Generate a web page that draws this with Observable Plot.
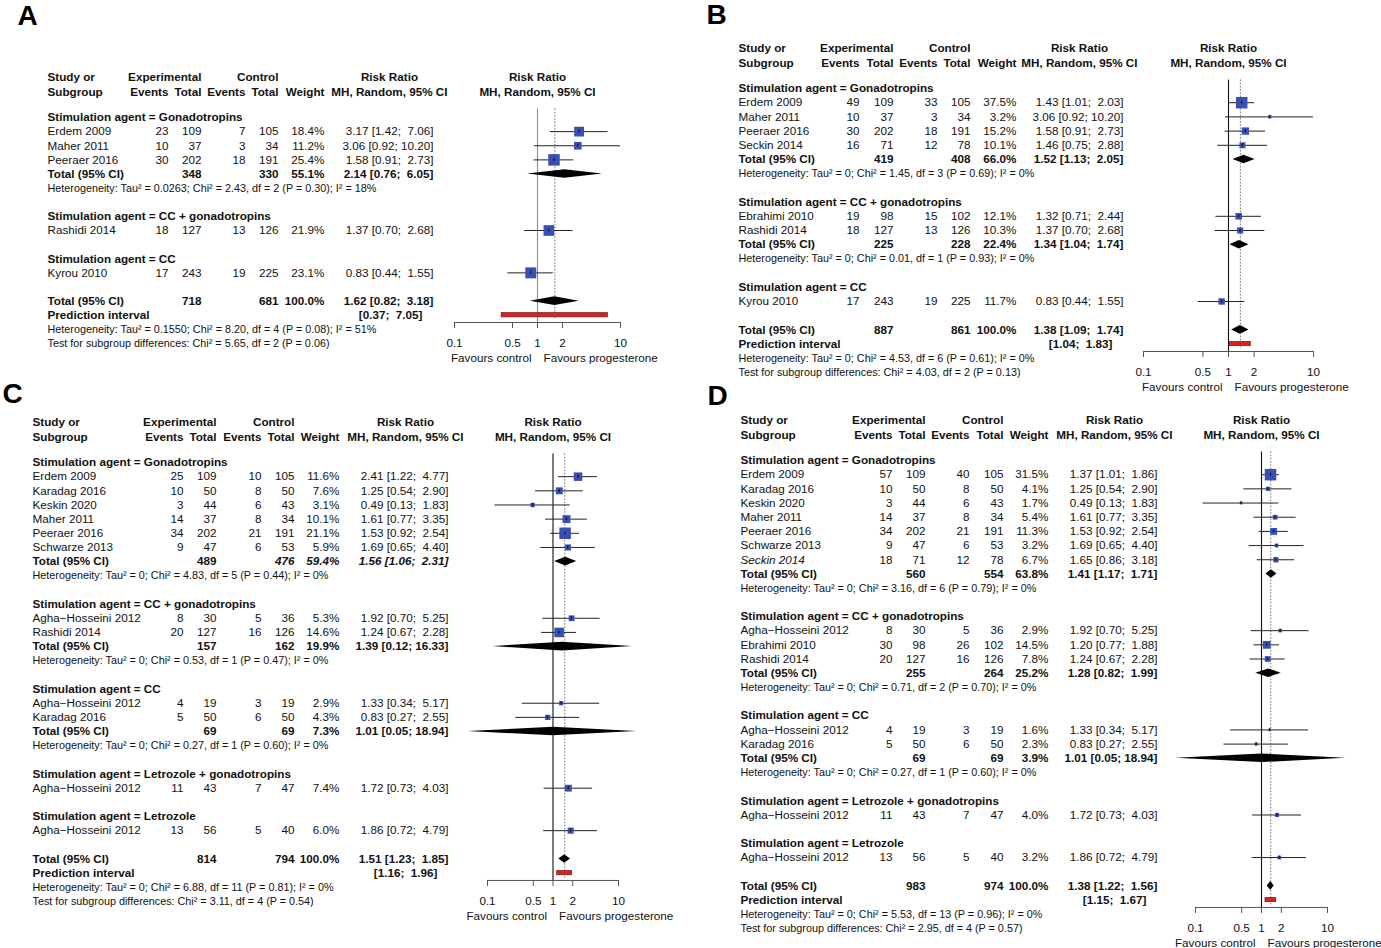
<!DOCTYPE html>
<html><head><meta charset="utf-8">
<script src="https://cdn.jsdelivr.net/npm/d3@7"></script>
<script src="https://cdn.jsdelivr.net/npm/@observablehq/plot@0.6"></script>
<style>
html,body{margin:0;padding:0;background:#fff;}
#fig{position:relative;width:1381px;height:948px;overflow:hidden;background:#fff;}
#fig svg{position:absolute;left:0;top:0;}
</style></head><body><div id="fig"></div>
<script>
// ---------------- DATA ----------------
const groupNames = ["Gonadotropins", "CC + gonadotropins", "CC", "Letrozole + gonadotropins", "Letrozole"];
const axisTicks = [0.1, 0.5, 1, 2, 10];
const favours = ["Favours control", "Favours progesterone"];

// study rows: [study, group, eventsE, totalE, eventsC, totalC, weight%, RR, lower, upper]
// subtotal rows: [group, totalE, totalC, weight%, RR, lower, upper, heterogeneity]
// overall: [totalE, totalC, weight%, RR, lower, upper, predLower, predUpper]

// Panel A
const studiesA = [
  ["Erdem 2009", 0, 23, 109, 7, 105, 18.4, 3.17, 1.42, 7.06],
  ["Maher 2011", 0, 10, 37, 3, 34, 11.2, 3.06, 0.92, 10.20],
  ["Peeraer 2016", 0, 30, 202, 18, 191, 25.4, 1.58, 0.91, 2.73],
  ["Rashidi 2014", 1, 18, 127, 13, 126, 21.9, 1.37, 0.70, 2.68],
  ["Kyrou 2010", 2, 17, 243, 19, 225, 23.1, 0.83, 0.44, 1.55]
];
const subtotalsA = [
  [0, 348, 330, 55.1, 2.14, 0.76, 6.05, "Heterogeneity: Tau² = 0.0263; Chi² = 2.43, df = 2 (P = 0.30); I² = 18%"]
];
const overallA = [718, 681, 100.0, 1.62, 0.82, 3.18, 0.37, 7.05];
const heterogeneityA = "Heterogeneity: Tau² = 0.1550; Chi² = 8.20, df = 4 (P = 0.08); I² = 51%";
const testA = "Test for subgroup differences: Chi² = 5.65, df = 2 (P = 0.06)";

// Panel B
const studiesB = [
  ["Erdem 2009", 0, 49, 109, 33, 105, 37.5, 1.43, 1.01, 2.03],
  ["Maher 2011", 0, 10, 37, 3, 34, 3.2, 3.06, 0.92, 10.20],
  ["Peeraer 2016", 0, 30, 202, 18, 191, 15.2, 1.58, 0.91, 2.73],
  ["Seckin 2014", 0, 16, 71, 12, 78, 10.1, 1.46, 0.75, 2.88],
  ["Ebrahimi 2010", 1, 19, 98, 15, 102, 12.1, 1.32, 0.71, 2.44],
  ["Rashidi 2014", 1, 18, 127, 13, 126, 10.3, 1.37, 0.70, 2.68],
  ["Kyrou 2010", 2, 17, 243, 19, 225, 11.7, 0.83, 0.44, 1.55]
];
const subtotalsB = [
  [0, 419, 408, 66.0, 1.52, 1.13, 2.05, "Heterogeneity: Tau² = 0; Chi² = 1.45, df = 3 (P = 0.69); I² = 0%"],
  [1, 225, 228, 22.4, 1.34, 1.04, 1.74, "Heterogeneity: Tau² = 0; Chi² = 0.01, df = 1 (P = 0.93); I² = 0%"]
];
const overallB = [887, 861, 100.0, 1.38, 1.09, 1.74, 1.04, 1.83];
const heterogeneityB = "Heterogeneity: Tau² = 0; Chi² = 4.53, df = 6 (P = 0.61); I² = 0%";
const testB = "Test for subgroup differences: Chi² = 4.03, df = 2 (P = 0.13)";

// Panel C
const studiesC = [
  ["Erdem 2009", 0, 25, 109, 10, 105, 11.6, 2.41, 1.22, 4.77],
  ["Karadag 2016", 0, 10, 50, 8, 50, 7.6, 1.25, 0.54, 2.90],
  ["Keskin 2020", 0, 3, 44, 6, 43, 3.1, 0.49, 0.13, 1.83],
  ["Maher 2011", 0, 14, 37, 8, 34, 10.1, 1.61, 0.77, 3.35],
  ["Peeraer 2016", 0, 34, 202, 21, 191, 21.1, 1.53, 0.92, 2.54],
  ["Schwarze 2013", 0, 9, 47, 6, 53, 5.9, 1.69, 0.65, 4.40],
  ["Agha\u2212Hosseini 2012", 1, 8, 30, 5, 36, 5.3, 1.92, 0.70, 5.25],
  ["Rashidi 2014", 1, 20, 127, 16, 126, 14.6, 1.24, 0.67, 2.28],
  ["Agha\u2212Hosseini 2012", 2, 4, 19, 3, 19, 2.9, 1.33, 0.34, 5.17],
  ["Karadag 2016", 2, 5, 50, 6, 50, 4.3, 0.83, 0.27, 2.55],
  ["Agha\u2212Hosseini 2012", 3, 11, 43, 7, 47, 7.4, 1.72, 0.73, 4.03],
  ["Agha\u2212Hosseini 2012", 4, 13, 56, 5, 40, 6.0, 1.86, 0.72, 4.79]
];
const subtotalsC = [
  [0, 489, 476, 59.4, 1.56, 1.06, 2.31, "Heterogeneity: Tau² = 0; Chi² = 4.83, df = 5 (P = 0.44); I² = 0%"],
  [1, 157, 162, 19.9, 1.39, 0.12, 16.33, "Heterogeneity: Tau² = 0; Chi² = 0.53, df = 1 (P = 0.47); I² = 0%"],
  [2, 69, 69, 7.3, 1.01, 0.05, 18.94, "Heterogeneity: Tau² = 0; Chi² = 0.27, df = 1 (P = 0.60); I² = 0%"]
];
const overallC = [814, 794, 100.0, 1.51, 1.23, 1.85, 1.16, 1.96];
const heterogeneityC = "Heterogeneity: Tau² = 0; Chi² = 6.88, df = 11 (P = 0.81); I² = 0%";
const testC = "Test for subgroup differences: Chi² = 3.11, df = 4 (P = 0.54)";

// Panel D
const studiesD = [
  ["Erdem 2009", 0, 57, 109, 40, 105, 31.5, 1.37, 1.01, 1.86],
  ["Karadag 2016", 0, 10, 50, 8, 50, 4.1, 1.25, 0.54, 2.90],
  ["Keskin 2020", 0, 3, 44, 6, 43, 1.7, 0.49, 0.13, 1.83],
  ["Maher 2011", 0, 14, 37, 8, 34, 5.4, 1.61, 0.77, 3.35],
  ["Peeraer 2016", 0, 34, 202, 21, 191, 11.3, 1.53, 0.92, 2.54],
  ["Schwarze 2013", 0, 9, 47, 6, 53, 3.2, 1.69, 0.65, 4.40],
  ["Seckin 2014", 0, 18, 71, 12, 78, 6.7, 1.65, 0.86, 3.18],
  ["Agha\u2212Hosseini 2012", 1, 8, 30, 5, 36, 2.9, 1.92, 0.70, 5.25],
  ["Ebrahimi 2010", 1, 30, 98, 26, 102, 14.5, 1.20, 0.77, 1.88],
  ["Rashidi 2014", 1, 20, 127, 16, 126, 7.8, 1.24, 0.67, 2.28],
  ["Agha\u2212Hosseini 2012", 2, 4, 19, 3, 19, 1.6, 1.33, 0.34, 5.17],
  ["Karadag 2016", 2, 5, 50, 6, 50, 2.3, 0.83, 0.27, 2.55],
  ["Agha\u2212Hosseini 2012", 3, 11, 43, 7, 47, 4.0, 1.72, 0.73, 4.03],
  ["Agha\u2212Hosseini 2012", 4, 13, 56, 5, 40, 3.2, 1.86, 0.72, 4.79]
];
const subtotalsD = [
  [0, 560, 554, 63.8, 1.41, 1.17, 1.71, "Heterogeneity: Tau² = 0; Chi² = 3.16, df = 6 (P = 0.79); I² = 0%"],
  [1, 255, 264, 25.2, 1.28, 0.82, 1.99, "Heterogeneity: Tau² = 0; Chi² = 0.71, df = 2 (P = 0.70); I² = 0%"],
  [2, 69, 69, 3.9, 1.01, 0.05, 18.94, "Heterogeneity: Tau² = 0; Chi² = 0.27, df = 1 (P = 0.60); I² = 0%"]
];
const overallD = [983, 974, 100.0, 1.38, 1.22, 1.56, 1.15, 1.67];
const heterogeneityD = "Heterogeneity: Tau² = 0; Chi² = 5.53, df = 13 (P = 0.96); I² = 0%";
const testD = "Test for subgroup differences: Chi² = 2.95, df = 4 (P = 0.57)";

const italicStudiesD = ["Seckin 2014"];
const italicSubtotalsC = [0];

// ---------------- LAYOUT / STYLE ----------------
const FONT = "'Liberation Sans', Arial, Helvetica, sans-serif";
const FS = 11.7, FSH = 10.8;
const BLUE = "#3a4fb2";

const layouts = {
  A: {letter: "A", lx: 17, ly: 5, y0: 117, rowH: 14.125,
      cols: {label: 47, evE: 168, totE: 201, evC: 245, totC: 278, w: 324, rr: 433, hdr: 447},
      xr: [454, 620], nullColor: "#8c8c8c"},
  B: {letter: "B", lx: 706, ly: 4, y0: 88, rowH: 14.2,
      cols: {label: 738, evE: 859, totE: 893, evC: 937, totC: 970, w: 1016, rr: 1123, hdr: 1137},
      xr: [1143, 1313], nullColor: "#111"},
  C: {letter: "C", lx: 2, ly: 383, y0: 462, rowH: 14.16,
      cols: {label: 32, evE: 183, totE: 216, evC: 261, totC: 294, w: 339, rr: 448, hdr: 463},
      xr: [487, 618], nullColor: "#111"},
  D: {letter: "D", lx: 707, ly: 385, y0: 460, rowH: 14.18,
      cols: {label: 740, evE: 892, totE: 925, evC: 969, totC: 1003, w: 1048, rr: 1157, hdr: 1172},
      xr: [1195, 1327], nullColor: "#111"}
};

const f2 = v => v.toFixed(2);
const ci = (lo, hi) => "[" + f2(lo) + ";\u00a0" + (hi < 10 ? "\u00a0" : "") + f2(hi) + "]";
const rrText = (rr, lo, hi) => f2(rr) + "\u00a0" + ci(lo, hi);

function build(studies, subtotals, overall, het, test, italicStudies = [], italicSub = []) {
  const text = [], squares = [], diamonds = [];
  const groups = [...new Set(studies.map(s => s[1]))];
  let r = 0;
  for (const g of groups) {
    text.push({row: r, col: "label", t: "Stimulation agent = " + groupNames[g], bold: true});
    r++;
    for (const s of studies.filter(s => s[1] === g)) {
      const [name, , eE, tE, eC, tC, w, rr, lo, hi] = s;
      text.push({row: r, col: "label", t: name, italic: italicStudies.includes(name)});
      text.push({row: r, col: "evE", t: String(eE)});
      text.push({row: r, col: "totE", t: String(tE)});
      text.push({row: r, col: "evC", t: String(eC)});
      text.push({row: r, col: "totC", t: String(tC)});
      text.push({row: r, col: "w", t: w.toFixed(1) + "%"});
      text.push({row: r, col: "rr", t: rrText(rr, lo, hi)});
      squares.push({row: r, w, rr, lo, hi});
      r++;
    }
    const st = subtotals.find(t => t[0] === g);
    if (st) {
      const it = italicSub.includes(g);
      text.push({row: r, col: "label", t: "Total (95% CI)", bold: true});
      text.push({row: r, col: "totE", t: String(st[1]), bold: true});
      text.push({row: r, col: "totC", t: String(st[2]), bold: true, italic: it});
      text.push({row: r, col: "w", t: st[3].toFixed(1) + "%", bold: true, italic: it});
      text.push({row: r, col: "rr", t: rrText(st[4], st[5], st[6]), bold: true, italic: it});
      diamonds.push({row: r, rr: st[4], lo: st[5], hi: st[6]});
      r++;
      text.push({row: r, col: "label", t: st[7], small: true});
      r++;
    }
    r++;
  }
  const oRow = r, pRow = r + 1, hRow = r + 2, tRow = r + 3;
  text.push({row: oRow, col: "label", t: "Total (95% CI)", bold: true});
  text.push({row: oRow, col: "totE", t: String(overall[0]), bold: true});
  text.push({row: oRow, col: "totC", t: String(overall[1]), bold: true});
  text.push({row: oRow, col: "w", t: overall[2].toFixed(1) + "%", bold: true});
  text.push({row: oRow, col: "rr", t: rrText(overall[3], overall[4], overall[5]), bold: true});
  text.push({row: pRow, col: "label", t: "Prediction interval", bold: true});
  text.push({row: pRow, col: "rrPred", t: ci(overall[6], overall[7]), bold: true});
  text.push({row: hRow, col: "label", t: het, small: true});
  text.push({row: tRow, col: "label", t: test, small: true});
  diamonds.push({row: oRow, rr: overall[3], lo: overall[4], hi: overall[5]});
  return {text, squares, diamonds, oRow, pRow, tRow, overall};
}

function drawPanel(P, L) {
  const rowH = L.rowH;
  const H1 = -40 / rowH, H2 = -25.5 / rowH;
  const c = L.cols;
  const colX = {...c, rrPred: c.rr - 11, rrHdrC: c.hdr - 58};
  const anchorOf = col => col === "label" ? "start" : col === "rrHdrC" ? "middle" : "end";
  const text = P.text.slice();
  // header
  text.push({row: H1, col: "label", t: "Study or", bold: true});
  text.push({row: H2, col: "label", t: "Subgroup", bold: true});
  text.push({row: H1, col: "totE", t: "Experimental", bold: true});
  text.push({row: H2, col: "evE", t: "Events", bold: true});
  text.push({row: H2, col: "totE", t: "Total", bold: true});
  text.push({row: H1, col: "totC", t: "Control", bold: true});
  text.push({row: H2, col: "evC", t: "Events", bold: true});
  text.push({row: H2, col: "totC", t: "Total", bold: true});
  text.push({row: H2, col: "w", t: "Weight", bold: true});
  text.push({row: H1, col: "rrHdrC", t: "Risk Ratio", bold: true});
  text.push({row: H2, col: "hdr", t: "MH, Random, 95% CI", bold: true});

  const marks = [];
  for (const [, items] of d3.groups(text, d => [d.col, !!d.bold, !!d.italic, !!d.small].join("|"))) {
    const d0 = items[0];
    marks.push(Plot.text(items, {
      y: "row", text: "t", frameAnchor: "left", dx: colX[d0.col],
      textAnchor: anchorOf(d0.col), fontSize: d0.small ? FSH : FS,
      fontWeight: d0.bold ? "bold" : "normal", fontStyle: d0.italic ? "italic" : "normal",
      fill: "#111"
    }));
  }

  const axisRow = P.tRow - 21 / rowH;
  const favRow = P.tRow + 15 / rowH;
  const topRow = -8.5 / rowH;
  const maxW = d3.max(P.squares, d => d.w);
  const halfD = 4.3 / rowH;
  const diamondPts = P.diamonds.flatMap((d, i) => [
    {id: i, x: d.lo, y1: d.row, y2: d.row},
    {id: i, x: d.rr, y1: d.row - halfD, y2: d.row + halfD},
    {id: i, x: d.hi, y1: d.row, y2: d.row}
  ]);

  marks.push(
    // forest header
    Plot.text(["Risk Ratio", "MH, Random, 95% CI"], {x: () => 1, y: (d, i) => i === 0 ? H1 : H2, text: d => d,
      textAnchor: "middle", fontSize: FS, fontWeight: "bold", fill: "#111"}),
    // dotted reference line at the overall estimate
    Plot.ruleX([P.overall[3]], {x: d => d, y1: topRow, y2: P.pRow + 0.35, stroke: "#666", strokeWidth: 0.9, strokeDasharray: "1.6,1.6"}),
    // null line
    Plot.ruleX([1], {x: d => d, y1: topRow, y2: axisRow, stroke: L.nullColor, strokeWidth: 1.1}),
    // CI lines
    Plot.ruleY(P.squares, {y: "row", x1: d => Math.max(d.lo, 0.1), x2: d => Math.min(d.hi, 10), stroke: "#222", strokeWidth: 1}),
    // squares
    Plot.dot(P.squares, {x: "rr", y: "row", symbol: "square", r: d => 11.5 * Math.sqrt(d.w / maxW) / Math.sqrt(Math.PI), fill: BLUE}),
    Plot.ruleX(P.squares, {x: "rr", y1: d => d.row - 1.6 / rowH, y2: d => d.row + 1.6 / rowH, stroke: "#111", strokeWidth: 0.9}),
    Plot.ruleY(P.squares, {y: "row", x1: d => d.rr * 0.985, x2: d => d.rr * 1.015, stroke: "#111", strokeWidth: 0.9}),
    // diamonds
    Plot.areaY(diamondPts, {x: "x", y1: "y1", y2: "y2", z: "id", fill: "#000", curve: "linear"}),
    // prediction interval
    Plot.rect([P.overall], {x1: d => d[6], x2: d => d[7], y1: P.pRow - 2.1 / rowH, y2: P.pRow + 2.1 / rowH,
      fill: "#d42424", stroke: "#7a1414", strokeWidth: 0.7}),
    // x axis
    Plot.ruleY([axisRow], {y: d => d, x1: 0.1, x2: 10, stroke: "#555", strokeWidth: 1}),
    Plot.ruleX(axisTicks, {x: d => d, y1: axisRow, y2: axisRow + 6 / rowH, stroke: "#555", strokeWidth: 1}),
    Plot.text(axisTicks, {x: d => d, y: P.tRow, text: d => String(d), textAnchor: "middle", fontSize: FS, fill: "#111"}),
    Plot.text([favours[0]], {x: () => 1, y: favRow, text: d => d, textAnchor: "end", dx: -6, fontSize: FS, fill: "#111"}),
    Plot.text([favours[1]], {x: () => 1, y: favRow, text: d => d, textAnchor: "start", dx: 6, fontSize: FS, fill: "#111"}),
    // panel letter
    Plot.text([L.letter], {frameAnchor: "top-left", dx: L.lx, dy: L.ly, text: d => d, lineAnchor: "top",
      textAnchor: "start", fontSize: 28, fontWeight: "bold", fill: "#000"})
  );

  return Plot.plot({
    width: 1381, height: 948, margin: 0,
    x: {type: "log", domain: [0.1, 10], range: L.xr, axis: null},
    y: {domain: [0, 1], range: [L.y0, L.y0 + rowH], axis: null},
    r: {type: "linear", domain: [0, 10], range: [0, 10]},
    style: {background: "transparent", fontFamily: FONT, overflow: "visible"},
    marks
  });
}

const fig = document.getElementById("fig");
fig.appendChild(drawPanel(build(studiesA, subtotalsA, overallA, heterogeneityA, testA), layouts.A));
fig.appendChild(drawPanel(build(studiesB, subtotalsB, overallB, heterogeneityB, testB), layouts.B));
fig.appendChild(drawPanel(build(studiesC, subtotalsC, overallC, heterogeneityC, testC, [], italicSubtotalsC), layouts.C));
fig.appendChild(drawPanel(build(studiesD, subtotalsD, overallD, heterogeneityD, testD, italicStudiesD), layouts.D));
</script>
</body></html>
